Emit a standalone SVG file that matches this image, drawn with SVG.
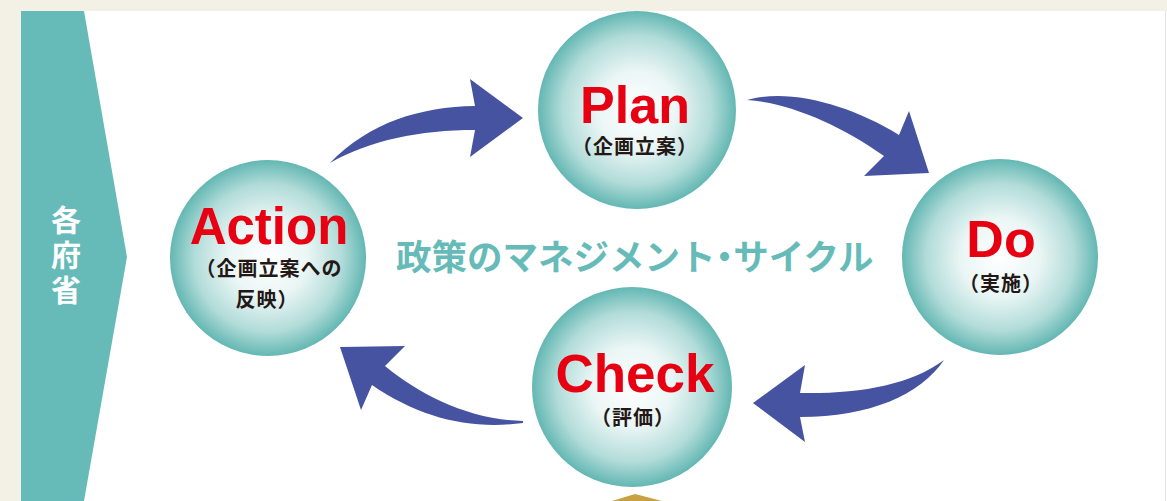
<svg xmlns="http://www.w3.org/2000/svg" width="1167" height="501" viewBox="0 0 1167 501">
  <defs>
    <radialGradient id="ball" cx="0.5" cy="0.5" r="0.5">
      <stop offset="0" stop-color="#ffffff"/>
      <stop offset="0.4" stop-color="#eaf6f5"/>
      <stop offset="0.75" stop-color="#b2dcd9"/>
      <stop offset="1" stop-color="#63b7b3"/>
    </radialGradient>
    <style>
      .ball { fill: url(#ball); }
      .en { font-family: "Liberation Sans", Arial, sans-serif; font-weight: bold; fill: #e60012; text-anchor: middle; }
      .jp { font-family: "Noto Sans CJK JP", sans-serif; font-weight: bold; fill: #231815; text-anchor: middle; font-size: 20px; letter-spacing: 1px; }
      .arrow { fill: #4553a0; }
      .half { font-feature-settings: "halt"; }
    </style>
  </defs>

  <!-- background -->
  <rect x="0" y="0" width="1167" height="501" fill="#f3f1e6"/>
  <rect x="21" y="11" width="1146" height="490" fill="#ffffff"/>
  <line x1="1165.5" y1="11" x2="1165.5" y2="501" stroke="#e4e4e4" stroke-width="1"/>

  <!-- left banner -->
  <g id="banner">
    <polygon points="21,11 84,11 127,257 84,501 21,501" fill="#66bbb9"/>
    <text x="66" y="205" writing-mode="vertical-rl" font-family="Noto Sans CJK JP, sans-serif" font-weight="bold" font-size="30" letter-spacing="5" fill="#ffffff">各府省</text>
  </g>

  <!-- connectors -->
  <g id="connectors">
    <path class="arrow" d="M 330,163 C 370,122 420,107 475,106 L 470,79 L 523,118 L 470,157 L 475,130 C 420,130 370,140 330,163 Z"/>
    <path class="arrow" d="M 747,100 C 790,88 850,105 899,135 L 909,111 L 929,173 L 864,176 L 884,156 C 840,125 790,103 747,100 Z"/>
    <path class="arrow" d="M 944,360 C 910,385 860,394 800,393 L 805,365 L 753,403 L 805,442 L 800,417 C 870,417 920,395 944,360 Z"/>
    <path class="arrow" d="M 523,421 C 470,420 420,395 385,366 L 405,346 L 340,347 L 361,410 L 372,385 C 420,418 470,430 523,423 Z"/>
  </g>

  <!-- center title -->
  <text id="title" x="396" y="270" font-family="Noto Sans CJK JP, sans-serif" font-weight="bold" font-size="35.5" fill="#66bbb9">政策のマネジメント<tspan class="half">・</tspan>サイクル</text>

  <g id="plan">
    <circle class="ball" cx="637" cy="110" r="99"/>
    <text class="en" x="635" y="123" font-size="52">Plan</text>
    <text class="jp" x="635" y="154">（企画立案）</text>
  </g>

  <g id="do">
    <circle class="ball" cx="1000" cy="257" r="98"/>
    <text class="en" x="1001" y="257" font-size="52">Do</text>
    <text class="jp" x="1001" y="291">（実施）</text>
  </g>

  <g id="check">
    <circle class="ball" cx="632" cy="387" r="100"/>
    <text class="en" x="635" y="392" font-size="53">Check</text>
    <text class="jp" x="633" y="425">（評価）</text>
  </g>

  <g id="action">
    <circle class="ball" cx="268" cy="258" r="98"/>
    <text class="en" x="269" y="244" font-size="51">Action</text>
    <text class="jp" x="269" y="276">（企画立案への</text>
    <text class="jp" x="267" y="307">反映）</text>
  </g>

  <!-- gold shape at bottom -->
  <polygon points="612,501 635,494 662,501" fill="#c9a042"/>
</svg>
